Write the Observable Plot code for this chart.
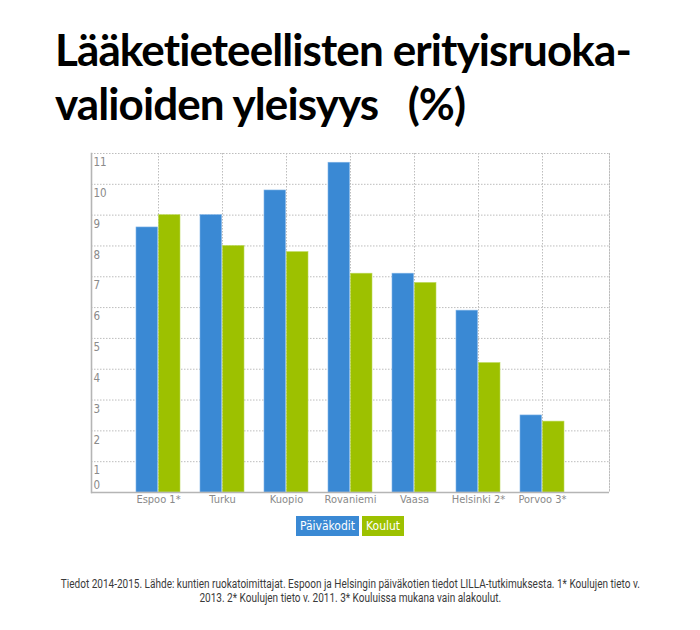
<!DOCTYPE html>
<html>
<head>
<meta charset="utf-8">
<script src="https://cdn.jsdelivr.net/npm/d3@7"></script>
<script src="https://cdn.jsdelivr.net/npm/@observablehq/plot@0.6"></script>
<style>
  html, body { margin: 0; padding: 0; background: #fff; }
  body { width: 700px; height: 630px; position: relative; overflow: hidden; }
  #title { position: absolute; left: 55px; top: 22px; font-family: Lato, "Open Sans", sans-serif; font-weight: 700; font-size: 44px; line-height: 54px; letter-spacing: -0.9px; color: #000; white-space: nowrap; }
  #chart { position: absolute; left: 0; top: 140px; }
  #legend { position: absolute; left: 0; width: 700px; top: 516px; text-align: center; font-size: 0; }
  #legend span { display: inline-block; color: #fff; font-family: "DejaVu Sans Condensed", sans-serif; font-size: 12px; line-height: 20px; padding: 0 4px; margin: 0 1.5px; }
  #caption { position: absolute; left: 0; width: 700px; top: 577px; text-align: center; font-family: Roboto, sans-serif; font-size: 12px; line-height: 14px; color: #3a3a3a; transform: scaleX(0.835); transform-origin: 352px 0; }
  #caption div { white-space: nowrap; }
</style>
</head>
<body>
<div id="title">Lääketieteellisten erityisruoka-<br>valioiden yleisyys&nbsp;&nbsp; (%)</div>
<div id="chart"></div>
<div id="legend"></div>
<div id="caption"><div>Tiedot 2014-2015. Lähde: kuntien ruokatoimittajat. Espoon ja Helsingin päiväkotien tiedot LILLA-tutkimuksesta. 1* Koulujen tieto v.</div><div>2013. 2* Koulujen tieto v. 2011. 3* Kouluissa mukana vain alakoulut.</div></div>
<script>
const cities = ["Espoo 1*", "Turku", "Kuopio", "Rovaniemi", "Vaasa", "Helsinki 2*", "Porvoo 3*"];
const paivakodit = [8.6, 9.0, 9.8, 10.7, 7.1, 5.9, 2.5];
const koulut = [9.0, 8.0, 7.8, 7.1, 6.8, 4.2, 2.3];
const seriesNames = ["Päiväkodit", "Koulut"];
const seriesColors = ["#3a89d4", "#9dc100"];
const yTicks = [0, 1, 2, 3, 4, 5, 6, 7, 8, 9, 10, 11];

const dataP = cities.map((c, i) => ({city: c, value: paivakodit[i]}));
const dataK = cities.map((c, i) => ({city: c, value: koulut[i]}));

const W = 700, H = 380;
const mL = 91, mR = 91, mT = 13, mB = 28;
const step = (W - mL - mR) / 8;
const bw = step * (1 - 0.305);
const labelFont = '"DejaVu Sans Condensed", sans-serif';

const plot = Plot.plot({
  width: W, height: H,
  marginLeft: mL, marginRight: mR, marginTop: mT, marginBottom: mB,
  style: {background: "transparent", fontFamily: labelFont},
  x: {type: "band", domain: cities, paddingInner: 0.305, paddingOuter: 0.6525, axis: null},
  y: {domain: [0, 11], axis: null},
  marks: [
    Plot.ruleY(yTicks.filter(d => d > 0), {stroke: "#bdbdbd", strokeDasharray: "1.5,1.5", strokeWidth: 1}),
    Plot.ruleX(cities, {x: d => d, stroke: "#bdbdbd", strokeDasharray: "1.5,1.5", strokeWidth: 1}),
    Plot.frame({anchor: "right", stroke: "#bdbdbd", strokeDasharray: "1.5,1.5", strokeWidth: 1}),
    Plot.barY(dataP, {x: "city", y: "value", fill: seriesColors[0], insetRight: bw / 2, stroke: "#7fb3e6", strokeWidth: 0.6}),
    Plot.barY(dataK, {x: "city", y: "value", fill: seriesColors[1], insetLeft: bw / 2, stroke: "#bcd95a", strokeWidth: 0.6}),
    Plot.ruleY([0], {stroke: "#b5b5b5", strokeWidth: 1.6}),
    Plot.frame({anchor: "left", stroke: "#b5b5b5", strokeWidth: 1.6}),
    Plot.text(yTicks.filter(d => d > 0), {y: d => d, text: d => String(d), frameAnchor: "left", textAnchor: "start", dx: 2, dy: 9, fill: "#8a8a8a", fontSize: 11.5}),
    Plot.text(yTicks.filter(d => d === 0), {y: d => d, text: d => String(d), frameAnchor: "left", textAnchor: "start", dx: 2, dy: -7, fill: "#8a8a8a", fontSize: 11.5}),
    Plot.text(cities, {x: d => d, text: d => d, frameAnchor: "bottom", dy: 10, fill: "#8a8a8a", fontSize: 11})
  ]
});
document.getElementById("chart").appendChild(plot);

const legend = document.getElementById("legend");
seriesNames.forEach((n, i) => {
  const s = document.createElement("span");
  s.textContent = n;
  s.style.background = seriesColors[i];
  legend.appendChild(s);
});
</script>
</body>
</html>
